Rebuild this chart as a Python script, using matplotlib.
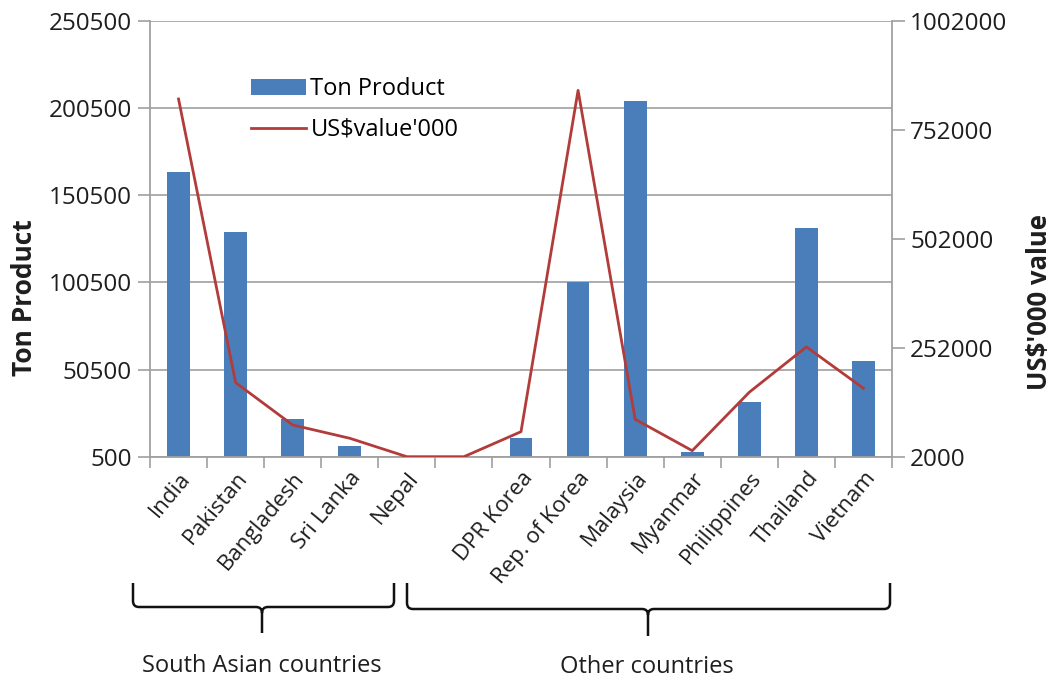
import numpy as np
import matplotlib
matplotlib.use("Agg")
import matplotlib.pyplot as plt
from matplotlib.path import Path
from matplotlib.patches import PathPatch, Patch
from matplotlib.lines import Line2D

plt.rcParams['font.family'] = ['Open Sans', 'DejaVu Sans']

# --- data -------------------------------------------------------------
countries = ["India", "Pakistan", "Bangladesh", "Sri Lanka", "Nepal", "",
             "DPR Korea", "Rep. of Korea", "Malaysia", "Myanmar",
             "Philippines", "Thailand", "Vietnam"]
ton_product = [163600, 129200, 22100, 6600, 500, np.nan,
               11200, 100500, 204500, 3400, 31700, 132000, 55500]
usd_value = [823000, 172000, 74800, 44300, 2000, 2000,
             59400, 842800, 87900, 15800, 150000, 254000, 159000]

left_ticks = [500, 50500, 100500, 150500, 200500, 250500]
right_ticks = [2000, 252000, 502000, 752000, 1002000]

groups = ["South Asian countries", "Other countries"]

BAR = "#4a7ebb"
LINE = "#b23c3a"
GRID = "#a0a0a0"
TXT = "#1e1e1e"

W, H = 1059, 678
fig = plt.figure(figsize=(W / 100, H / 100), dpi=100)
ax = fig.add_axes([150 / W, 1 - 456.7 / H, (892 - 150) / W, (456.7 - 21) / H])
ax2 = ax.twinx()

x = np.arange(len(countries))
ax.bar(x, np.array(ton_product) - left_ticks[0], bottom=left_ticks[0],
       width=0.4, color=BAR, zorder=2)
ax2.plot(x, usd_value, color=LINE, lw=2.0, zorder=3)

ax.set_xlim(-0.5, len(countries) - 0.5)
ax.set_ylim(left_ticks[0], left_ticks[-1])
ax2.set_ylim(right_ticks[0], right_ticks[-1])

ax.set_yticks(left_ticks)
ax.set_yticklabels([str(v) for v in left_ticks])
ax2.set_yticks(right_ticks)
ax2.set_yticklabels([str(v) for v in right_ticks])

ax.set_axisbelow(True)
ax.yaxis.grid(True, color=GRID, lw=1.2)
ax.xaxis.grid(False)

# category labels at centres, tick marks at boundaries
ax.set_xticks(x)
ax.set_xticklabels(countries, rotation=50, ha="right", rotation_mode="anchor",
                   fontsize=16, color=TXT)
ax.tick_params(axis="x", which="major", length=0, pad=8)
ax.set_xticks(np.arange(-0.5, len(countries), 1.0), minor=True)
ax.tick_params(axis="x", which="minor", length=8, width=1.2, color=GRID,
               direction="out")

ax.tick_params(axis="y", length=9, width=1.2, color=GRID, labelsize=17.5,
               labelcolor=TXT, pad=4)
ax2.tick_params(axis="y", length=9, width=1.2, color=GRID, labelsize=17.5,
                labelcolor=TXT, pad=4)

for a in (ax, ax2):
    a.spines["top"].set_visible(False)
    for s in ("left", "right", "bottom"):
        a.spines[s].set_color(GRID)
        a.spines[s].set_linewidth(1.3)
ax.spines["right"].set_visible(False)
ax2.spines["left"].set_visible(False)
ax2.spines["bottom"].set_visible(False)

fig.text(25 / W, 1 - 298 / H, "Ton Product", rotation=90, ha="center",
         va="center", fontsize=19, fontweight="bold", color=TXT)
fig.text(1040 / W, 1 - 302 / H, "US$'000 value", rotation=90, ha="center",
         va="center", fontsize=18.5, fontweight="bold", color=TXT)

handles = [Patch(facecolor=BAR, edgecolor="none"),
           Line2D([], [], color=LINE, lw=2.0)]
fig.legend(handles, ["Ton Product", "US$value'000"], loc="upper left",
           bbox_to_anchor=(242 / W, 1 - 68 / H), frameon=False,
           fontsize=17, handlelength=2.3, handletextpad=0.2,
           labelspacing=0.7, borderaxespad=0)


# curly brackets grouping the countries
def bracket(x0, x1, xm, ytop, ybar, ytip):
    r = 6
    verts = [(x0, ytop), (x0, ybar - r), (x0, ybar), (x0 + r, ybar),
             (xm - r, ybar), (xm, ybar), (xm, ybar + r), (xm, ytip),
             (xm, ybar + r), (xm, ybar), (xm + r, ybar),
             (x1 - r, ybar), (x1, ybar), (x1, ybar - r), (x1, ytop)]
    codes = [Path.MOVETO, Path.LINETO, Path.CURVE3, Path.CURVE3,
             Path.LINETO, Path.CURVE3, Path.CURVE3, Path.LINETO,
             Path.MOVETO, Path.CURVE3, Path.CURVE3,
             Path.LINETO, Path.CURVE3, Path.CURVE3, Path.LINETO]
    verts = [(vx / W, 1 - vy / H) for vx, vy in verts]
    fig.add_artist(PathPatch(Path(verts, codes), fill=False, lw=1.8,
                             edgecolor="#111111",
                             transform=fig.transFigure))


bracket(133, 394, 262, 583, 607, 633)
bracket(407, 890, 648, 583, 609, 636)
fig.text(262 / W, 1 - 666 / H, groups[0], ha="center", va="center",
         fontsize=17, color=TXT)
fig.text(647 / W, 1 - 667 / H, groups[1], ha="center", va="center",
         fontsize=17, color=TXT)

fig.savefig("out.png", dpi=100, facecolor="white")
